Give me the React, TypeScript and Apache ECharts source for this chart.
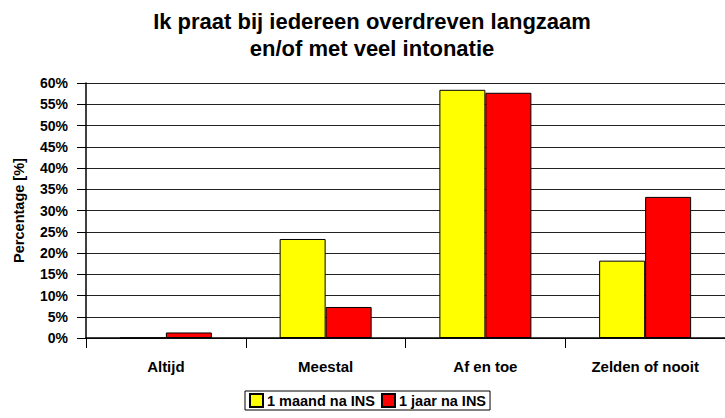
import React, { useEffect, useRef } from "react";
import * as echarts from "echarts";

const categories = ["Altijd", "Meestal", "Af en toe", "Zelden of nooit"];
const seriesNames = ["1 maand na INS", "1 jaar na INS"];
const maandValues = [0, 23.3, 58.4, 18.2];
const jaarValues = [1.3, 7.3, 57.7, 33.2];
const titleLines = ["Ik praat bij iedereen overdreven langzaam", "en/of met veel intonatie"];

const FONT = "'Liberation Sans', Arial, sans-serif";

export default function App() {
  const ref = useRef<HTMLDivElement>(null);
  useEffect(() => {
    if (!ref.current) return;
    const chart = echarts.init(ref.current, undefined, { renderer: "svg" });
    chart.setOption({
      animation: false,
      backgroundColor: "#ffffff",
      title: {
        text: titleLines.join("\n"),
        left: 372,
        textAlign: "center",
        top: 8,
        padding: 0,
        textStyle: { fontFamily: FONT, fontSize: 22, fontWeight: "bold", color: "#000", lineHeight: 27 },
      },
      legend: {
        left: 245,
        top: 391,
        icon: "rect",
        itemWidth: 13,
        itemHeight: 13,
        itemGap: 6,
        padding: [2, 4, 2, 4],
        borderColor: "#000",
        borderWidth: 1,
        textStyle: { fontFamily: FONT, fontSize: 14.5, fontWeight: "bold", color: "#000", padding: [0, 0, 0, -1] },
        data: seriesNames,
      },
      grid: { left: 86, right: -13, top: 83, bottom: 80, containLabel: false },
      xAxis: {
        type: "category",
        data: categories,
        axisLine: { lineStyle: { color: "#000", width: 1.5 } },
        axisTick: { show: true, length: 10, alignWithLabel: false, lineStyle: { color: "#000" } },
        axisLabel: { fontFamily: FONT, fontSize: 15, fontWeight: "bold", color: "#000", margin: 21 },
      },
      yAxis: {
        type: "value",
        min: 0,
        max: 60,
        interval: 5,
        name: "Percentage [%]",
        nameLocation: "middle",
        nameGap: 60,
        nameRotate: 90,
        nameTextStyle: { fontFamily: FONT, fontSize: 14.5, fontWeight: "bold", color: "#000" },
        axisLine: { show: true, lineStyle: { color: "#000", width: 1.5 } },
        axisTick: { show: true, length: 9, lineStyle: { color: "#000" } },
        axisLabel: { formatter: "{value}%", fontFamily: FONT, fontSize: 14, fontWeight: "bold", color: "#000", margin: 18 },
        splitLine: { show: true, lineStyle: { color: "#222", width: 1 } },
      },
      series: [
        {
          name: seriesNames[0],
          type: "bar",
          data: maandValues,
          barGap: "0%",
          barWidth: 46,
          itemStyle: { color: "#ffff00", borderColor: "#000", borderWidth: 1 },
        },
        {
          name: seriesNames[1],
          type: "bar",
          data: jaarValues,
          barGap: "0%",
          barWidth: 46,
          itemStyle: { color: "#ff0000", borderColor: "#000", borderWidth: 1 },
        },
      ],
    });
    return () => chart.dispose();
  }, []);
  return <div ref={ref} style={{ width: 725, height: 418, position: "absolute", left: 0, top: 0 }} />;
}
